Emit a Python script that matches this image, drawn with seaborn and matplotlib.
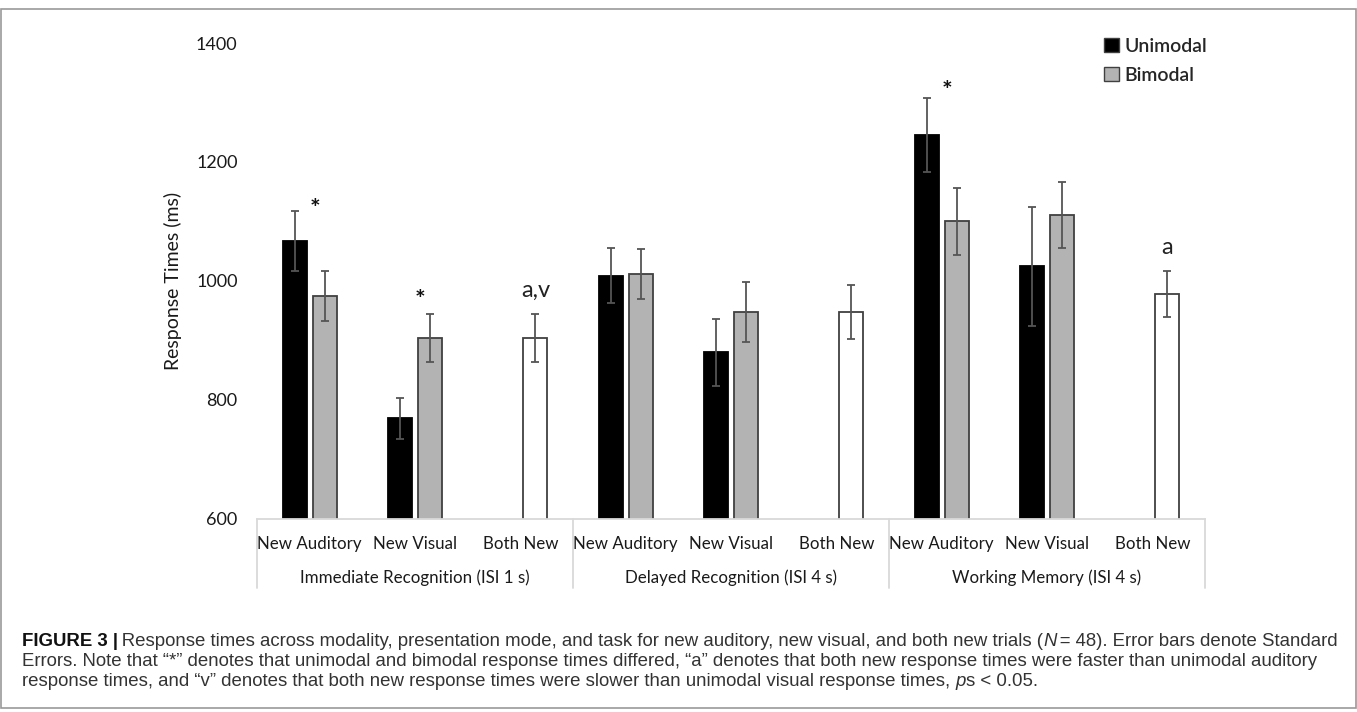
import numpy as np
import pandas as pd
import matplotlib.pyplot as plt
import seaborn as sns
from matplotlib.patches import Rectangle, Patch
import matplotlib.transforms as mtransforms

#--------------------DATA-----------------------

tasks = ["Immediate Recognition (ISI 1 s)", "Delayed Recognition (ISI 4 s)", "Working Memory (ISI 4 s)"]
trials = ["New Auditory", "New Visual", "Both New"]
modes = ["Unimodal", "Bimodal"]

# one entry per task x trial; Both New has one mean only (drawn white in the bimodal slot)
uni_mean = [1067, 769, np.nan, 1009, 880, np.nan, 1246, 1025, np.nan]
uni_se = [50, 35, np.nan, 46, 56, np.nan, 62, 100, np.nan]
bi_mean = [975, 904, 904, 1012, 948, 948, 1100, 1111, 978]
bi_se = [42, 40, 40, 42, 50, 45, 56, 55, 39]

# significance marks and their heights (ms)
marks = ["*", "*", "a,v", "", "", "", "*", "", "a"]
mark_y = [1121, 968, 985, 0, 0, 0, 1318, 0, 1057]

#--------------------BUILD FRAME----------------

slots = list(range(len(bi_mean)))
df = pd.DataFrame({
    "slot": slots * 2,
    "rt": uni_mean + bi_mean,
    "se": uni_se + bi_se,
    "mode": ["Unimodal"] * len(slots) + ["Bimodal"] * len(slots),
})
df = df.dropna(subset=["rt"])

#--------------------PLOT-----------------------

sns.set_style("white")
plt.rcParams['font.family'] = ['Lato', 'DejaVu Sans']

fig = plt.figure(figsize=(13.57, 7.12), dpi=100)
ax = fig.add_axes([0.1894, 0.2711, 0.6986, 0.6685])

palette = {"Unimodal": "#000000", "Bimodal": "#b3b3b3"}
sns.barplot(data=df, x="slot", y="rt", hue="mode", order=slots, hue_order=modes,
            palette=palette, width=0.57, gap=0.2, errorbar=None,
            edgecolor="#404040", linewidth=1.3, legend=False, ax=ax)

# error bars + white Both New bars
for cont, mode in zip(ax.containers, modes):
    sub = df[df["mode"] == mode].set_index("slot")
    for bar in cont:
        xc = bar.get_x() + bar.get_width() / 2
        k = int(round(xc))
        h = bar.get_height()
        ax.errorbar(xc, h, yerr=sub.loc[k, "se"], fmt="none", ecolor="#555555",
                    elinewidth=1.3, capsize=3.2, capthick=1.3, zorder=5)
        if mode == "Unimodal":
            bar.set_edgecolor("#000000")
        if trials[k % 3] == "Both New":
            bar.set_facecolor("white")
            bar.set_edgecolor("#404040")

# marks
for k, (m, my) in enumerate(zip(marks, mark_y)):
    if not m:
        continue
    if m == "*":
        ax.text(k + 0.05, my, m, ha="center", va="center", fontsize=18, fontweight="bold",
                color="#111111")
    else:
        ax.text(k + 0.143, my, m, ha="center", va="center", fontsize=17, color="#222222")

ax.set_xlim(-0.5, len(slots) - 0.5)
ax.set_ylim(600, 1400)
ax.set_yticks(np.arange(600, 1401, 200))
ax.tick_params(axis="y", length=0, pad=14, labelsize=13, labelcolor="#1a1a1a")
ax.set_xticks([])
ax.set_xlabel("")
ax.set_ylabel("Response Times (ms)", fontsize=14, labelpad=10, color="#1a1a1a")
sns.despine(ax=ax, left=True)
ax.spines["bottom"].set_color("#d9d9d9")
ax.spines["bottom"].set_linewidth(1.3)

# category table under the axis
trans = mtransforms.blended_transform_factory(ax.transData, ax.transAxes)
for k in slots:
    ax.text(k, -0.053, trials[k % 3], transform=trans, ha="center", va="center",
            fontsize=12.2, color="#1a1a1a")
for g, task in enumerate(tasks):
    ax.text(3 * g + 1, -0.124, task, transform=trans, ha="center", va="center",
            fontsize=12.2, color="#1a1a1a")
for xs in [-0.5, 2.5, 5.5, 8.5]:
    ax.plot([xs, xs], [0, -0.145], transform=trans, color="#d9d9d9", lw=1.3, clip_on=False)

# legend
handles = [Patch(facecolor=palette[m], edgecolor="#404040", label=m) for m in modes]
leg = fig.legend(handles=handles, loc="upper left", bbox_to_anchor=(0.801, 0.971), frameon=False,
                 fontsize=14, handlelength=0.75, handleheight=0.75, handletextpad=0.3, labelspacing=0.6)
for t in leg.get_texts():
    t.set_fontweight("semibold")

#--------------------CAPTION--------------------

fig.patches.append(Rectangle((0.001, 0.006), 0.998, 0.982, transform=fig.transFigure,
                             fill=False, edgecolor="#9a9a9a", lw=1.2))

renderer = fig.canvas.get_renderer()
W = fig.bbox.width
cap = dict(family=["Liberation Sans", "DejaVu Sans"], fontsize=13.45, color="#333333", va="center")

def runs(x, y, pieces):
    for s, extra in pieces:
        kw = dict(cap)
        kw.update(extra)
        t = fig.text(x, y, s, **kw)
        x += t.get_window_extent(renderer).width / W
    return x

y1, y2, y3 = 1 - 642 / 712, 1 - 662 / 712, 1 - 682 / 712
x0 = 22 / 1357
runs(x0, y1, [("FIGURE 3 |", dict(fontweight="bold", color="#111111")),
              ("\u2009Response times across modality, presentation mode, and task for new auditory, new visual, and both new trials (", {}),
              ("N", dict(style="italic")),
              ("\u2009= 48). Error bars denote Standard", {})])
runs(x0, y2, [("Errors. Note that \u201c*\u201d denotes that unimodal and bimodal response times differed, \u201ca\u201d denotes that both new response times were faster than unimodal auditory", {})])
runs(x0, y3, [("response times, and \u201cv\u201d denotes that both new response times were slower than unimodal visual response times, ", {}),
              ("p", dict(style="italic")),
              ("s < 0.05.", {})])

fig.savefig("out.png", dpi=100)
